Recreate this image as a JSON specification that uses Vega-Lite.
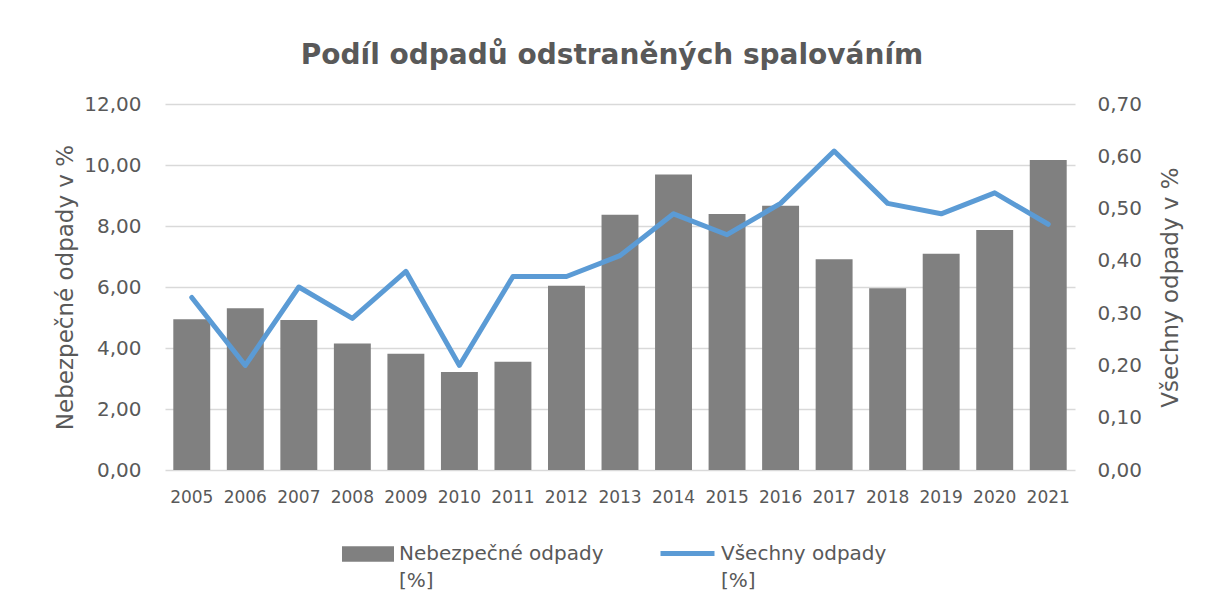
{
  "$schema": "https://vega.github.io/schema/vega-lite/v6.json",
  "width": 910,
  "height": 366,
  "autosize": "none",
  "padding": {"left": 165, "top": 104, "right": 130, "bottom": 139},
  "background": "white",
  "config": {
    "view": {"stroke": null},
    "font": "DejaVu Sans",
    "axis": {"labelColor": "#595959", "titleColor": "#595959", "titleFontWeight": "normal"},
    "style": {"guide-label": {"lineHeight": 27}}
  },
  "title": {
    "text": "Podíl odpadů odstraněných spalováním",
    "fontSize": 28,
    "fontWeight": "bold",
    "color": "#595959",
    "anchor": "middle",
    "frame": "group",
    "dx": -8,
    "baseline": "alphabetic",
    "offset": 2
  },
  "data": {
    "values": [
      {"rok": "2005", "nebezpecne": 4.94, "vsechny": 0.33},
      {"rok": "2006", "nebezpecne": 5.30, "vsechny": 0.20},
      {"rok": "2007", "nebezpecne": 4.92, "vsechny": 0.35},
      {"rok": "2008", "nebezpecne": 4.15, "vsechny": 0.29},
      {"rok": "2009", "nebezpecne": 3.81, "vsechny": 0.38},
      {"rok": "2010", "nebezpecne": 3.21, "vsechny": 0.20},
      {"rok": "2011", "nebezpecne": 3.55, "vsechny": 0.37},
      {"rok": "2012", "nebezpecne": 6.04, "vsechny": 0.37},
      {"rok": "2013", "nebezpecne": 8.37, "vsechny": 0.41},
      {"rok": "2014", "nebezpecne": 9.69, "vsechny": 0.49},
      {"rok": "2015", "nebezpecne": 8.39, "vsechny": 0.45},
      {"rok": "2016", "nebezpecne": 8.66, "vsechny": 0.51},
      {"rok": "2017", "nebezpecne": 6.91, "vsechny": 0.61},
      {"rok": "2018", "nebezpecne": 5.96, "vsechny": 0.51},
      {"rok": "2019", "nebezpecne": 7.09, "vsechny": 0.49},
      {"rok": "2020", "nebezpecne": 7.87, "vsechny": 0.53},
      {"rok": "2021", "nebezpecne": 10.16, "vsechny": 0.47}
    ]
  },
  "layer": [
    {
      "mark": {"type": "bar", "color": "#808080"},
      "encoding": {
        "x": {
          "field": "rok",
          "type": "ordinal",
          "scale": {"paddingInner": 0.31, "paddingOuter": 0.155},
          "axis": {
            "title": null,
            "domain": false,
            "ticks": false,
            "labelAngle": 0,
            "labelFontSize": 17,
            "labelPadding": 19
          }
        },
        "y": {
          "field": "nebezpecne",
          "type": "quantitative",
          "scale": {"domain": [0, 12], "nice": false},
          "axis": {
            "title": "Nebezpečné odpady v %",
            "titleFontSize": 23,
            "titlePadding": 6,
            "values": [0, 2, 4, 6, 8, 10, 12],
            "labelExpr": "replace(format(datum.value, '.2f'), '.', ',')",
            "labelFontSize": 20,
            "labelPadding": 24,
            "domain": false,
            "ticks": false,
            "grid": true,
            "gridColor": "#d9d9d9",
            "gridWidth": 1.5
          }
        },
        "fill": {
          "datum": "Nebezpečné odpady [%]",
          "scale": {"range": ["#808080"]},
          "legend": {
            "orient": "none",
            "legendX": 177,
            "legendY": 424,
            "title": null,
            "symbolType": "M-1,-0.3H1V0.3H-1Z",
            "symbolSize": 2704,
            "symbolStrokeWidth": 0,
            "labelFontSize": 20,
            "labelColor": "#595959",
            "labelOffset": 5,
            "labelLimit": 400,
            "labelExpr": "['Nebezpečné odpady', '[%]']"
          }
        }
      }
    },
    {
      "mark": {"type": "line", "strokeWidth": 5, "strokeJoin": "round", "strokeCap": "round"},
      "encoding": {
        "x": {"field": "rok", "type": "ordinal"},
        "y": {
          "field": "vsechny",
          "type": "quantitative",
          "scale": {"domain": [0, 0.7], "nice": false},
          "axis": {
            "orient": "right",
            "title": "Všechny odpady  v %",
            "titleFontSize": 23,
            "titleAngle": -90,
            "titleBaseline": "top",
            "titlePadding": 18,
            "values": [0, 0.1, 0.2, 0.3, 0.4, 0.5, 0.6, 0.7],
            "labelExpr": "replace(format(datum.value, '.2f'), '.', ',')",
            "labelFontSize": 20,
            "labelPadding": 22,
            "domain": false,
            "ticks": false,
            "grid": false
          }
        },
        "stroke": {
          "datum": "Všechny odpady [%]",
          "scale": {"range": ["#5B9BD5"]},
          "legend": {
            "orient": "none",
            "legendX": 493,
            "legendY": 420,
            "title": null,
            "symbolType": "stroke",
            "symbolSize": 2916,
            "symbolStrokeWidth": 5,
            "labelFontSize": 20,
            "labelColor": "#595959",
            "labelOffset": 4,
            "labelLimit": 400,
            "labelExpr": "['Všechny odpady', '[%]']"
          }
        }
      }
    }
  ],
  "resolve": {"scale": {"y": "independent"}}
}
